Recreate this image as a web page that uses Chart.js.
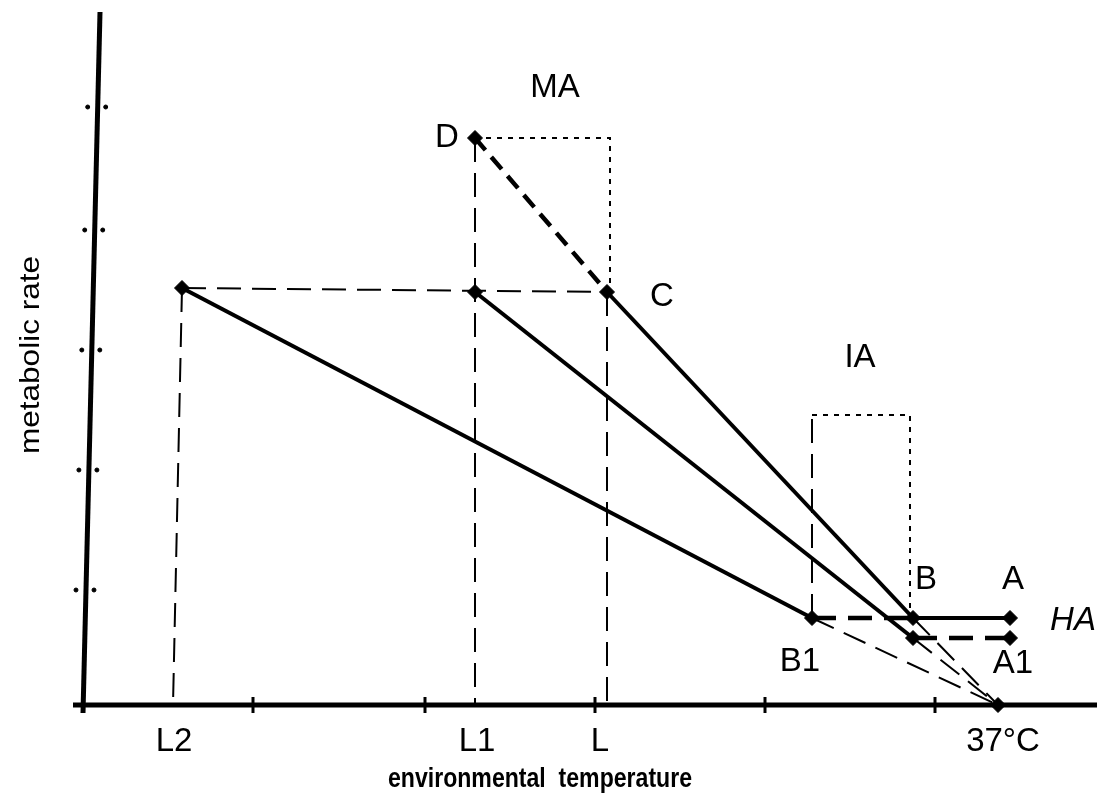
<!DOCTYPE html>
<html>
<head>
<meta charset="utf-8">
<script src="https://cdn.jsdelivr.net/npm/chart.js@4/dist/chart.umd.min.js"></script>
<style>
  body { margin: 0; background: #fff; }
  canvas { display: block; }
</style>
</head>
<body>
<canvas id="grafico" width="1097" height="796"></canvas>
<script>
// points of the diagram: x = temperature position, y = metabolic rate
const pontoL2 = [99, 417];
const pontoL1 = [392, 413];
const pontoC = [524, 413];
const pontoD = [392, 567];
const pontoB = [830, 87];
const pontoBbaixo = [830, 67];
const pontoB1 = [729, 87];
const pontoA = [927, 87];
const pontoA1 = [927, 67];
const ponto37 = [915, 0];

const pesL = [[90, 0], [392, 0], [524, 0]];           // feet of L2, L1, L
const caixaMA = [[392, 567], [527, 567], [527, 413]];
const caixaIA = [[729, 87], [729, 290], [827, 290], [827, 87]];

const ticksX = [170, 342, 512, 682, 852];
const ticksY = [598, 475, 355, 235, 115];

const eixoY = [[17, 693], [0, -8]];
const eixoX = [[-10, 0], [1014, 0]];

const rotulos = [
  ['MA', 472, 617], ['D', 364, 567], ['C', 579, 408], ['IA', 777, 347],
  ['B', 843, 125], ['A', 930, 125], ['HA', 990, 84], ['B1', 717, 43],
  ['A1', 930, 41], ['37°C', 920, -37], ['L2', 91, -37], ['L1', 394, -37], ['L', 517, -37]
];

const ESTILOS = {
  solida: { borderWidth: 4, borderDash: [] },
  tracejada: { borderWidth: 2, borderDash: [24, 11] },
  grossa: { borderWidth: 4.5, borderDash: [16, 9] },
  grossaLonga: { borderWidth: 4.5, borderDash: [24, 12] },
  pontilhada: { borderWidth: 2, borderDash: [5, 6] },
  eixo: { borderWidth: 5, borderDash: [] },
  tick: { borderWidth: 3, borderDash: [] }
};

const datasets = [];

function linha(pontos, estilo) {
  datasets.push({
    data: pontos.map(p => ({ x: p[0], y: p[1] })),
    showLine: true,
    borderColor: '#000',
    borderWidth: ESTILOS[estilo].borderWidth,
    borderDash: ESTILOS[estilo].borderDash,
    pointRadius: 0,
    tension: 0
  });
}

// axes
linha(eixoY, 'eixo');
linha(eixoX, 'eixo');
ticksX.forEach(t => linha([[t, -8], [t, 8]], 'tick'));

// guide lines
linha([pontoL2, pesL[0]], 'tracejada');
linha([pontoD, pesL[1]], 'tracejada');
linha([pontoC, pesL[2]], 'tracejada');
linha([pontoL2, pontoC], 'tracejada');
linha(caixaMA, 'pontilhada');
linha(caixaIA.slice(0, 2), 'tracejada');
linha(caixaIA.slice(1), 'pontilhada');
linha([pontoB1, ponto37], 'tracejada');
linha([pontoB, ponto37], 'tracejada');
linha([pontoBbaixo, ponto37], 'tracejada');

// main lines
linha([pontoL2, pontoB1], 'solida');
linha([pontoL1, pontoBbaixo], 'solida');
linha([pontoC, pontoB], 'solida');
linha([pontoB, pontoA], 'solida');
linha([pontoD, pontoC], 'grossa');
linha([pontoB1, pontoB], 'grossaLonga');
linha([pontoBbaixo, pontoA1], 'grossaLonga');

// markers
datasets.push({
  data: [pontoL2, pontoL1, pontoC, pontoD, pontoB, pontoBbaixo, pontoB1, pontoA, pontoA1, ponto37]
    .map(p => ({ x: p[0], y: p[1] })),
  showLine: false,
  pointStyle: 'rectRot',
  pointRadius: 7.5,
  backgroundColor: '#000',
  borderColor: '#000'
});

// y tick dots, one each side of the axis
const pontosY = [];
ticksY.forEach(t => {
  const xEixo = t * 17 / 701 + 0.2;
  pontosY.push({ x: xEixo - 10, y: t }, { x: xEixo + 8, y: t });
});
datasets.push({
  data: pontosY,
  showLine: false,
  pointRadius: 2,
  backgroundColor: '#000',
  borderColor: '#000'
});

function textoLargo(ctx, txt, x, y, largura) {
  const w = ctx.measureText(txt).width;
  ctx.save();
  ctx.translate(x, y);
  ctx.scale(largura / w, 1);
  ctx.fillText(txt, 0, 0);
  ctx.restore();
}

const pluginTextos = {
  id: 'textos',
  afterDraw(chart) {
    const ctx = chart.ctx;
    const sx = chart.scales.x, sy = chart.scales.y;
    ctx.save();
    ctx.fillStyle = '#000';
    ctx.textAlign = 'center';
    ctx.textBaseline = 'middle';
    rotulos.forEach(([txt, x, y]) => {
      ctx.font = (txt === 'HA' ? 'italic ' : '') + '33px "Liberation Sans", Arial, sans-serif';
      ctx.fillText(txt, sx.getPixelForValue(x), sy.getPixelForValue(y));
    });
    ctx.font = 'bold 28px "Liberation Sans Narrow", "Liberation Sans", Arial, sans-serif';
    textoLargo(ctx, 'environmental  temperature', 540, 779, 304);
    ctx.translate(31, 355);
    ctx.rotate(-Math.PI / 2);
    ctx.font = '28px "Liberation Sans", Arial, sans-serif';
    textoLargo(ctx, 'metabolic rate', 0, 0, 198);
    ctx.restore();
  }
};

new Chart(document.getElementById('grafico'), {
  type: 'scatter',
  data: { datasets: datasets },
  options: {
    responsive: false,
    animation: false,
    layout: { padding: 0, autoPadding: false },
    plugins: { legend: { display: false }, tooltip: { enabled: false } },
    scales: {
      x: { display: false, min: -83, max: 1014 },
      y: { display: false, min: -91, max: 705 }
    }
  },
  plugins: [pluginTextos]
});
</script>
</body>
</html>
